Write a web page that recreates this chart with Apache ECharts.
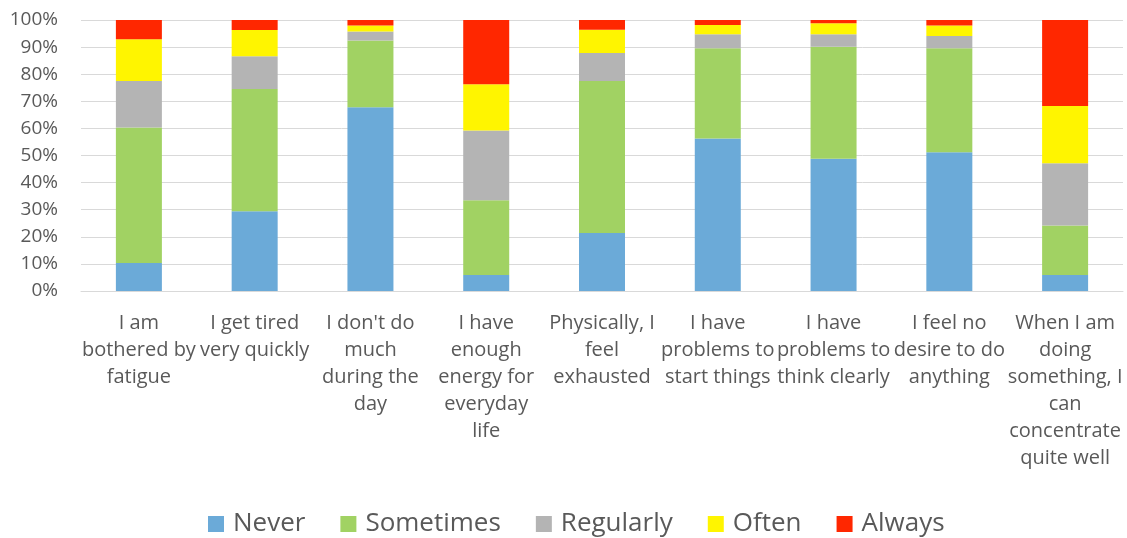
<!DOCTYPE html>
<html>
<head>
<meta charset="utf-8">
<script src="https://cdn.jsdelivr.net/npm/echarts@6/dist/echarts.min.js"></script>
<style>
html,body{margin:0;padding:0;background:#fff;}
#chart{width:1127px;height:538px;}
</style>
</head>
<body>
<div id="chart"></div>
<script>
const categories = [
  "I am\nbothered by\nfatigue",
  "I get tired\nvery quickly",
  "I don't do\nmuch\nduring the\nday",
  "I have\nenough\nenergy for\neveryday\nlife",
  "Physically, I\nfeel\nexhausted",
  "I have\nproblems to\nstart things",
  "I have\nproblems to\nthink clearly",
  "I feel no\ndesire to do\nanything",
  "When I am\ndoing\nsomething, I\ncan\nconcentrate\nquite well"
];
const seriesNames = ["Never", "Sometimes", "Regularly", "Often", "Always"];
const never     = [10.3, 29.4, 67.8,  5.9, 21.4, 56.3, 48.8, 51.2,  5.9];
const sometimes = [50.0, 45.1, 24.6, 27.6, 56.1, 33.3, 41.3, 38.4, 18.3];
const regularly = [17.2, 12.1,  3.4, 25.7, 10.3,  5.1,  4.6,  4.5, 22.9];
const often     = [15.4,  9.7,  2.2, 17.1,  8.6,  3.5,  4.1,  3.9, 21.2];
const always    = [ 7.1,  3.7,  2.0, 23.7,  3.6,  1.8,  1.2,  2.0, 31.7];
const colors = ["#6baad8", "#a1d263", "#b4b4b4", "#fff500", "#ff2700"];

const values = [never, sometimes, regularly, often, always];
const font = "'Open Sans', sans-serif";
const chart = echarts.init(document.getElementById('chart'));
chart.setOption({
  animation: false,
  backgroundColor: '#fff',
  grid: {left: 81, right: 4, top: 20, bottom: 247, containLabel: false},
  legend: {
    left: 203, top: 506,
    itemWidth: 16, itemHeight: 16, itemGap: 35,
    icon: 'rect',
    textStyle: {fontFamily: font, fontSize: 26, color: '#595959', padding: [0, 0, 0, 4]},
    data: seriesNames
  },
  xAxis: {
    type: 'category',
    data: categories,
    axisTick: {show: false},
    axisLine: {show: true, lineStyle: {color: '#d9d9d9', width: 1}},
    axisLabel: {
      interval: 0, margin: 19,
      fontFamily: font, fontSize: 20, color: '#595959', lineHeight: 27,
      hideOverlap: false
    }
  },
  yAxis: {
    type: 'value', min: 0, max: 100, interval: 10,
    axisLine: {show: false}, axisTick: {show: false},
    splitLine: {lineStyle: {color: '#d9d9d9', width: 1}},
    axisLabel: {formatter: '{value}%', fontFamily: font, fontSize: 19, color: '#595959', margin: 23}
  },
  series: seriesNames.map((n, i) => ({
    name: n, type: 'bar', stack: 'total', barWidth: 46,
    itemStyle: {color: colors[i]},
    data: values[i]
  }))
});
</script>
</body>
</html>
